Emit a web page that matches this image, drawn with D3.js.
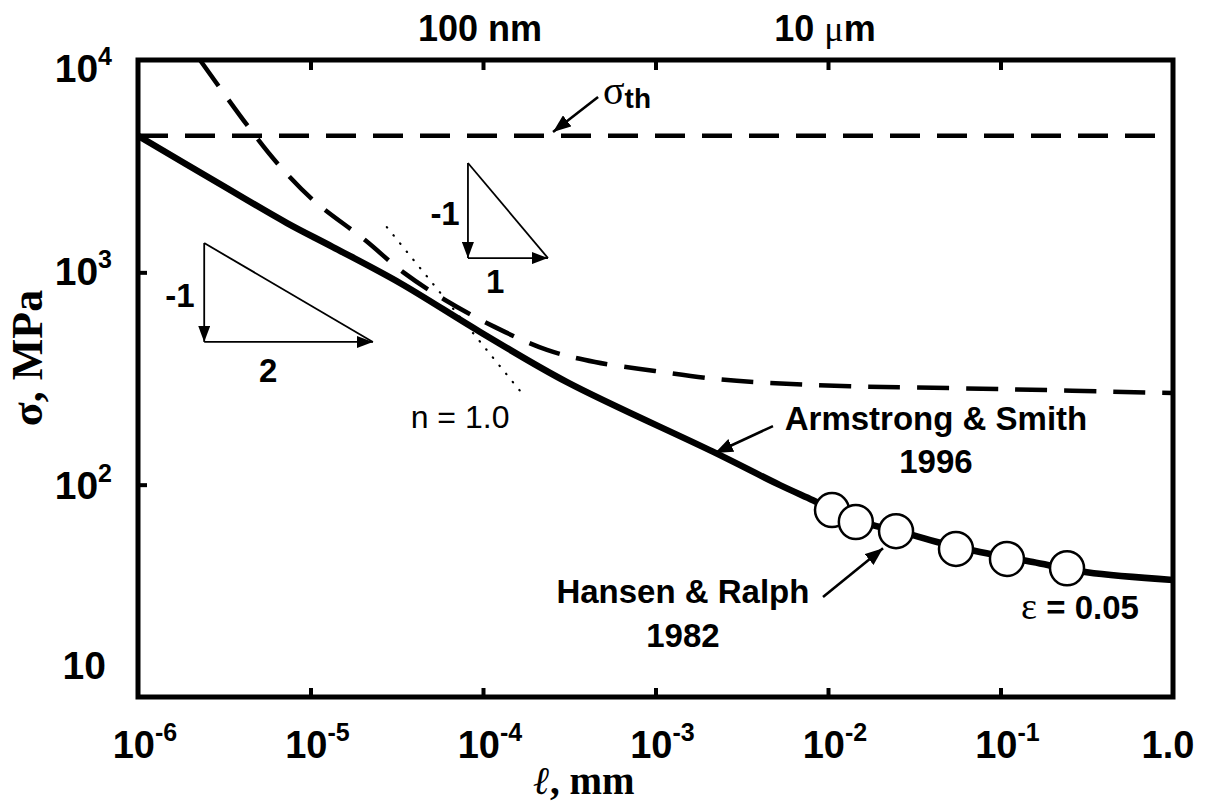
<!DOCTYPE html>
<html>
<head>
<meta charset="utf-8">
<script src="https://cdn.jsdelivr.net/npm/d3@7"></script>
<style>
  body { margin: 0; background: #fff; }
  text { fill: #000; }
</style>
</head>
<body>
<svg id="chart" width="1207" height="804"></svg>
<script>
// ---- axis decades and labels ----
const xDecades   = [1e-6, 1e-5, 1e-4, 1e-3, 1e-2, 1e-1, 1];
const xExponents = ["-6", "-5", "-4", "-3", "-2", "-1", null];   // null -> "1.0"
const yDecades   = [10, 100, 1000, 10000];
const yExponents = [null, "2", "3", "4"];
const topTickValues = [1e-4, 1e-2];
const topTickNumbers = ["100", "10"];
const topTickUnits   = ["nm", "μm"];

// ---- theoretical strength (MPa) ----
const sigmaTheoretical = 4400;

// ---- Armstrong & Smith 1996: flow stress vs. length, mm / MPa ----
const armstrongL = [1e-6, 2.985e-6, 7.31e-6, 1.349e-5, 3.30e-5, 9.62e-5, 3.07e-4, 2.15e-3,
                    5.27e-3, 8.18e-3, 0.01452, 0.0311, 0.0429, 0.0760, 0.154, 0.317, 1];
const armstrongS = [4400, 2606, 1706, 1315, 891, 524, 304, 143,
                    99.5, 84.5, 68.1, 57.9, 53.7, 48.2, 43.2, 38.7, 35.6];

// ---- dashed strength curve ----
const dashedL = [2.286e-6, 4.285e-6, 6.40e-6, 1.033e-5, 2.07e-5, 3.44e-5, 6.03e-5, 1.175e-4,
                 2.35e-4, 4.46e-4, 9.93e-4, 2.275e-3, 4.61e-3, 0.01343, 0.0993, 1];
const dashedS = [10000, 4943, 3273, 2193, 1419, 1002, 741, 552,
                 431, 378, 343, 314, 301, 291, 282, 270];

// ---- Hansen & Ralph 1982, eps = 0.05 ----
const hansenL = [0.01055, 0.0145, 0.0248, 0.0552, 0.109, 0.243];
const hansenS = [75.9, 66.7, 60.4, 49.8, 44.7, 40.4];

// ---- n = 1.0 reference line ----
const slopeLineL = [2.77e-5, 1.75e-4];
const slopeLineS = [1633, 259];

// ---- slope triangles: [top, corner, right] as [l, sigma] ----
const triangleHalf = [[2.42e-6, 1374], [2.42e-6, 470], [2.30e-5, 470]];
const triangleOne  = [[8.18e-5, 3273], [8.18e-5, 1167], [2.38e-4, 1167]];

const svg = d3.select("#chart");
const x = d3.scaleLog().domain([1e-6, 1]).range([138, 1173]);
const y = d3.scaleLog().domain([10, 1e4]).range([697, 60]);
const P = (l, s) => [x(l), y(s)];
const PL = (lx, ly) => [x(Math.pow(10, lx)), y(Math.pow(10, ly))];

const SANS = "'Liberation Sans', Arial, Helvetica, sans-serif";
const SERIF = "'Liberation Serif', 'Times New Roman', serif";

// arrowhead markers
const defs = svg.append("defs");
function marker(id, len, wid) {
  defs.append("marker")
    .attr("id", id)
    .attr("markerUnits", "userSpaceOnUse")
    .attr("viewBox", `0 0 ${len} ${wid}`)
    .attr("refX", len).attr("refY", wid / 2)
    .attr("markerWidth", len).attr("markerHeight", wid)
    .attr("orient", "auto")
    .append("path")
    .attr("d", `M0,0 L${len},${wid / 2} L0,${wid} Z`)
    .attr("fill", "#000");
}
marker("headBig", 18, 14);
marker("headSmall", 16, 12);

const clip = defs.append("clipPath").attr("id", "plotClip");
clip.append("rect")
  .attr("x", x(1e-6)).attr("y", y(1e4))
  .attr("width", x(1) - x(1e-6)).attr("height", y(10) - y(1e4));

// ---- frame and inward ticks ----
const frame = svg.append("g");
const innerX = xDecades.slice(1, -1);
const innerY = yDecades.slice(1, -1);

frame.append("g")
  .attr("transform", `translate(0,${y(10)})`)
  .call(d3.axisTop(x).tickValues(innerX).tickSize(9).tickFormat(""))
  .call(g => g.select(".domain").remove())
  .selectAll("line").attr("stroke", "#000").attr("stroke-width", 4);

frame.append("g")
  .attr("transform", `translate(0,${y(1e4)})`)
  .call(d3.axisBottom(x).tickValues(innerX).tickSize(10).tickFormat(""))
  .call(g => g.select(".domain").remove())
  .selectAll("line").attr("stroke", "#000").attr("stroke-width", 4);

frame.append("g")
  .attr("transform", `translate(${x(1e-6)},0)`)
  .call(d3.axisRight(y).tickValues(innerY).tickSize(9).tickFormat(""))
  .call(g => g.select(".domain").remove())
  .selectAll("line").attr("stroke", "#000").attr("stroke-width", 4);

frame.append("rect")
  .attr("x", x(1e-6)).attr("y", y(1e4))
  .attr("width", x(1) - x(1e-6)).attr("height", y(10) - y(1e4))
  .attr("fill", "none").attr("stroke", "#000").attr("stroke-width", 5);

// ---- tick labels ----
const xLab = svg.append("g").attr("font-family", SANS).attr("font-weight", "bold");
xDecades.forEach((v, i) => {
  const t = xLab.append("text")
    .attr("x", x(v) + (xExponents[i] ? 7 : -5)).attr("y", 758)
    .attr("text-anchor", "middle").attr("font-size", 38);
  if (xExponents[i]) {
    t.append("tspan").text("10");
    t.append("tspan").attr("font-size", 25).attr("dy", -17).text(xExponents[i]);
  } else {
    t.text("1.0");
  }
});

const yLab = svg.append("g").attr("font-family", SANS).attr("font-weight", "bold");
const yBaselineShift = [-18, 14, 13, 22];
yDecades.forEach((v, i) => {
  const t = yLab.append("text")
    .attr("x", yExponents[i] ? 112 : 106).attr("y", y(v) + yBaselineShift[i])
    .attr("text-anchor", "end").attr("font-size", 39);
  t.append("tspan").text("10");
  if (yExponents[i]) {
    t.append("tspan").attr("font-size", 25).attr("dy", -17).text(yExponents[i]);
  }
});

// top length-scale labels
const topLab = svg.append("g").attr("font-family", SANS).attr("font-weight", "bold");
topTickValues.forEach((v, i) => {
  const t = topLab.append("text")
    .attr("x", x(v) - 3).attr("y", 41)
    .attr("text-anchor", "middle").attr("font-size", 36);
  t.append("tspan").text(topTickNumbers[i] + " ");
  if (topTickUnits[i].startsWith("μ")) {
    t.append("tspan").attr("font-family", SERIF).attr("font-weight", "normal").text("μ");
    t.append("tspan").text(topTickUnits[i].slice(1));
  } else {
    t.append("tspan").text(topTickUnits[i]);
  }
});

// axis titles
svg.append("text")
  .attr("transform", "translate(42,358) rotate(-90)")
  .attr("text-anchor", "middle")
  .attr("font-family", SERIF).attr("font-weight", "bold").attr("font-size", 44)
  .text("σ, MPa");

svg.append("text")
  .attr("x", 584).attr("y", 794)
  .attr("text-anchor", "middle")
  .attr("font-family", SERIF).attr("font-weight", "bold").attr("font-size", 39)
  .call(t => {
    t.append("tspan").attr("font-style", "italic").text("ℓ");
    t.append("tspan").text(", mm");
  });

// ---- curves ----
const plot = svg.append("g").attr("clip-path", "url(#plotClip)");
const line = d3.line().curve(d3.curveCatmullRom.alpha(0.5));

// theoretical strength line
plot.append("path")
  .attr("d", line([P(1e-6, sigmaTheoretical), P(1, sigmaTheoretical)]))
  .attr("fill", "none").attr("stroke", "#000").attr("stroke-width", 4.5)
  .attr("stroke-dasharray", "30,17");

// dashed strength curve
plot.append("path")
  .attr("d", line(dashedL.map((l, i) => P(l, dashedS[i]))))
  .attr("fill", "none").attr("stroke", "#000").attr("stroke-width", 4.5)
  .attr("stroke-dasharray", "32,17");

// n = 1.0 dotted line
plot.append("path")
  .attr("d", line(slopeLineL.map((l, i) => P(l, slopeLineS[i]))))
  .attr("fill", "none").attr("stroke", "#000").attr("stroke-width", 2.2)
  .attr("stroke-linecap", "round")
  .attr("stroke-dasharray", "0.5,10");

// Armstrong & Smith curve
plot.append("path")
  .attr("d", line(armstrongL.map((l, i) => P(l, armstrongS[i]))))
  .attr("fill", "none").attr("stroke", "#000").attr("stroke-width", 6.5)
  .attr("stroke-linejoin", "round");

// Hansen & Ralph data
plot.selectAll("circle.hr")
  .data(hansenL.map((l, i) => [l, hansenS[i]]))
  .join("circle")
  .attr("class", "hr")
  .attr("cx", d => x(d[0])).attr("cy", d => y(d[1]))
  .attr("r", 17)
  .attr("fill", "#fff").attr("stroke", "#000").attr("stroke-width", 2.5);

// ---- slope triangles ----
function triangle(pts) {
  const [a, b, c] = pts.map(p => P(p[0], p[1]));
  const g = svg.append("g").attr("stroke", "#000").attr("fill", "none").attr("stroke-width", 1.8);
  g.append("line").attr("x1", a[0]).attr("y1", a[1]).attr("x2", c[0]).attr("y2", c[1]);
  g.append("line").attr("x1", a[0]).attr("y1", a[1]).attr("x2", b[0]).attr("y2", b[1])
    .attr("marker-end", "url(#headSmall)");
  g.append("line").attr("x1", b[0]).attr("y1", b[1]).attr("x2", c[0]).attr("y2", c[1])
    .attr("marker-end", "url(#headSmall)");
}
triangle(triangleHalf);
triangle(triangleOne);

// ---- annotations (positions in log10 units of length and stress) ----
const ann = svg.append("g").attr("font-family", SANS).attr("font-weight", "bold").attr("font-size", 33);
function label(lx, ly, txt, opts = {}) {
  const [px, py] = PL(lx, ly);
  return ann.append("text").attr("x", px).attr("y", py)
    .attr("text-anchor", opts.anchor || "middle")
    .attr("font-size", opts.size || 33)
    .attr("font-weight", opts.weight || "bold")
    .text(txt);
}
function arrow(from, to) {
  const a = PL(from[0], from[1]), b = PL(to[0], to[1]);
  svg.append("line")
    .attr("x1", a[0]).attr("y1", a[1]).attr("x2", b[0]).attr("y2", b[1])
    .attr("stroke", "#000").attr("stroke-width", 2.6)
    .attr("marker-end", "url(#headBig)");
}

label(-5.757, 2.837, "-1");
label(-5.246, 2.483, "2");
label(-4.220, 3.223, "-1");
label(-3.930, 2.902, "1");
label(-4.133, 2.267, "n = 1.0", { weight: "normal", size: 32 });

// sigma_th
{
  const [px, py] = PL(-3.304, 3.793);
  const t = ann.append("text").attr("x", px).attr("y", py).attr("text-anchor", "start");
  t.append("tspan").attr("font-family", SERIF).attr("font-weight", "normal").attr("font-size", 40).text("σ");
  t.append("tspan").attr("font-size", 28).attr("dy", 4).text("th");
}
arrow([-3.333, 3.826], [-3.594, 3.661]);

label(-1.374, 2.257, "Armstrong & Smith");
label(-1.374, 2.055, "1996");
arrow([-2.319, 2.276], [-2.655, 2.149]);

label(-2.841, 1.442, "Hansen & Ralph");
label(-2.841, 1.235, "1982");
arrow([-2.029, 1.471], [-1.681, 1.701]);

{
  const [px, py] = PL(-0.539, 1.367);
  const t = ann.append("text").attr("x", px).attr("y", py).attr("text-anchor", "middle");
  t.append("tspan").attr("font-family", SERIF).attr("font-weight", "normal").attr("font-size", 38).text("ε");
  t.append("tspan").text(" = 0.05");
}
</script>
</body>
</html>
